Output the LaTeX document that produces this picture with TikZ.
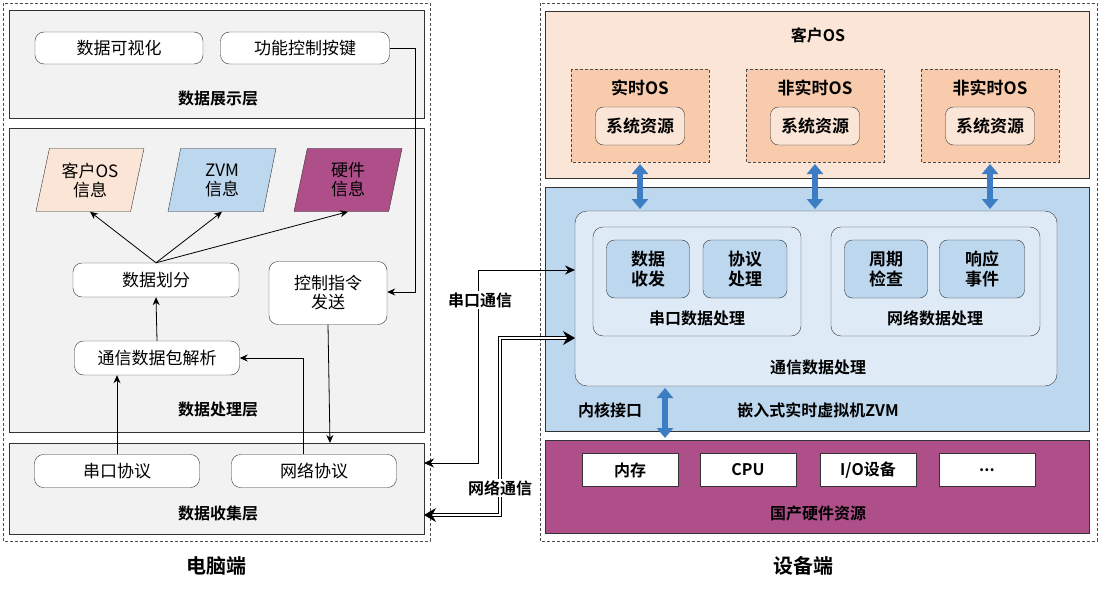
\documentclass[tikz,border=0pt]{standalone}
\usepackage{fontspec}
\setmainfont{Noto Sans CJK SC}[BoldFont={* Bold}]
\usetikzlibrary{shapes.geometric,arrows.meta}
\definecolor{lor}{HTML}{FBE5D6}
\definecolor{mor}{HTML}{F8CBAD}
\definecolor{lbl}{HTML}{BDD7EE}
\definecolor{vlb}{HTML}{DEEBF7}
\definecolor{pur}{HTML}{AE4F8A}
\definecolor{arb}{HTML}{3C7DC4}
\definecolor{lg}{HTML}{F2F2F2}
\begin{document}
\begin{tikzpicture}[x=1pt,y=-1pt,
 lay/.style={draw=black!80,fill=lg,thick},
 rb/.style={draw=black!80,fill=white,rounded corners=9pt,font=\fontsize{17}{19}\selectfont,align=center,inner sep=1pt},
 ttl/.style={font=\bfseries\fontsize{16}{18}\selectfont},
 para/.style={trapezium,trapezium left angle=70,trapezium right angle=110,draw=black!80,minimum width=108,minimum height=63,trapezium stretches body,align=center,inner sep=1pt,font=\fontsize{17}{19}\selectfont},
 ar/.style={-{Stealth[length=8pt,width=7pt]},thick},
 dba/.style={{Triangle[length=10pt,width=16pt]}-{Triangle[length=10pt,width=16pt]},arb,line width=6pt},
 inb/.style={draw=black!80,rounded corners=8pt,align=center,inner sep=1pt,font=\bfseries\fontsize{17}{20}\selectfont},
 hw/.style={draw=black!80,fill=white,minimum width=96,minimum height=33,font=\bfseries\fontsize{16}{18}\selectfont}]
\useasboundingbox (0,0) rectangle (1100,591);
% outer dashed
\draw[densely dashed,black!70] (3,3) rectangle (430,541);
\draw[densely dashed,black!70] (540,3) rectangle (1097,541);
% display layer
\draw[lay] (9,10) rectangle (424,118);
\node[rb,minimum width=168,minimum height=32] (vis) at (119,48) {数据可视化};
\node[rb,minimum width=169,minimum height=32] (key) at (305,48) {功能控制按键};
\node[ttl] at (218,99) {数据展示层};
% processing layer
\draw[lay] (9,128) rectangle (424,432);
\node[para,fill=lor] (p1) at (90,180) {客户OS\\信息};
\node[para,fill=lbl] (p2) at (222,180) {ZVM\\信息};
\node[para,fill=pur] (p3) at (348,180) {硬件\\信息};
\node[rb,minimum width=166,minimum height=34] (div) at (156,280) {数据划分};
\node[rb,minimum width=118,minimum height=63] (ctl) at (328,293) {控制指令\\发送};
\node[rb,minimum width=165,minimum height=34] (parse) at (157,358) {通信数据包解析};
\node[ttl] at (218,410) {数据处理层};
% collection layer
\draw[lay] (9,443) rectangle (424,534);
\coordinate (coltop) at (330,443);
\node[rb,minimum width=165,minimum height=33] (ser) at (117,471) {串口协议};
\node[rb,minimum width=165,minimum height=33] (net) at (314,471) {网络协议};
\node[ttl] at (218,513) {数据收集层};
\node[font=\bfseries\fontsize{20}{22}\selectfont] at (216,566) {电脑端};
\node[font=\bfseries\fontsize{20}{22}\selectfont] at (803,566) {设备端};
% left connectors
\draw[ar] (key.east) -- (415,48) -- (415,292) -- (ctl.east |- 0,292);
\draw[ar] (ctl.south) -- (coltop);
\draw[ar] (div.north) -- (p1.south);
\draw[ar] (div.north) -- (p2.south);
\draw[ar] (div.north) -- (p3.south);
\draw[ar] (parse.north) -- (div.south);
\draw[ar] (ser.north) -- (ser.north |- parse.south);
\draw[ar] (net.north -| 303,0) -- (303,358) -- (parse.east);
% right: guest OS
\draw[thick,draw=black!80,fill=lor] (545,11) rectangle (1089,178);
\node[ttl] at (818,35) {客户OS};
\foreach \n/\x/\t in {a/640/实时OS,b/815/非实时OS,c/990/非实时OS}{
 \draw[densely dashed,black!70,fill=mor] (\x-69,69) rectangle (\x+69,162);
 \node[ttl,font=\bfseries\fontsize{17}{19}\selectfont] at (\x,88) {\t};
 \node[inb,fill=lor,minimum width=89,minimum height=38] (s\n) at (\x,126) {系统资源};
}
% ZVM
\draw[thick,draw=black!80,fill=lbl] (545,187) rectangle (1089,431);
\draw[draw=black!80,fill=vlb,rounded corners=12pt] (575,211) rectangle (1057,386);
\coordinate (zin1) at (575,270);
\coordinate (zin2) at (575,338);
\draw[draw=black!80,fill=vlb,rounded corners=10pt] (593,227) rectangle (801,336);
\draw[draw=black!80,fill=vlb,rounded corners=10pt] (831,227) rectangle (1040,336);
\node[inb,fill=lbl,minimum width=83,minimum height=58] at (648,269) {数据\\收发};
\node[inb,fill=lbl,minimum width=84,minimum height=58] at (745,269) {协议\\处理};
\node[inb,fill=lbl,minimum width=83,minimum height=58] at (886,269) {周期\\检查};
\node[inb,fill=lbl,minimum width=85,minimum height=58] at (982,269) {响应\\事件};
\node[ttl] at (697,318) {串口数据处理};
\node[ttl] at (935,318) {网络数据处理};
\node[ttl] at (818,367) {通信数据处理};
\node[ttl] at (610,410) {内核接口};
\node[ttl] at (818,410) {嵌入式实时虚拟机ZVM};
% hardware
\draw[thick,draw=black!80,fill=pur] (545,440) rectangle (1089,533);
\node[hw] (h1) at (630,470) {内存};
\node[hw] (h2) at (748,470) {CPU};
\node[hw] (h3) at (868,470) {I/O设备};
\node[hw] (h4) at (987,470) {...};
\node[ttl] at (818,513) {国产硬件资源};
% blue arrows
\foreach \x in {640,815,990} \draw[dba] (\x,164) -- (\x,209);
\draw[dba] (665,388) -- (665,438);
% communication
\coordinate (colR1) at (424,463);
\coordinate (colR2) at (424,515);
\draw[{Stealth[length=10pt,width=9pt]}-{Stealth[length=10pt,width=9pt]},thick] (colR1) -- (478,463) -- (478,270) -- (zin1);
\draw[{Stealth[length=12pt,width=14pt]}-{Stealth[length=12pt,width=14pt]},double,thick,double distance=2.5pt] (colR2) -- (500,515) -- (500,338) -- (zin2);
\node[ttl,fill=white,inner sep=1pt] at (480,300) {串口通信};
\node[ttl,fill=white,inner sep=1pt] at (500,488) {网络通信};
\end{tikzpicture}
\end{document}
